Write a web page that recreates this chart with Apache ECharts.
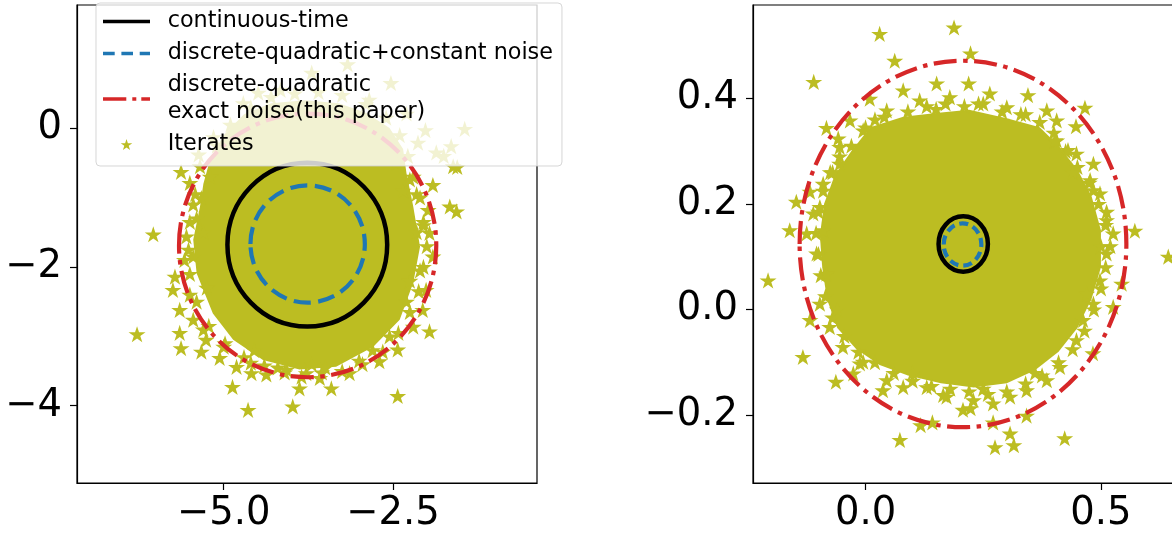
<!DOCTYPE html>
<html><head><meta charset="utf-8">
<script src="https://cdn.jsdelivr.net/npm/echarts@6/dist/echarts.min.js"></script>
<style>html,body{margin:0;padding:0;background:#fff}#c{width:1172px;height:537px}</style>
</head><body><div id="c"></div><script>
// ---------- data ----------
const seriesNames = ['continuous-time', 'discrete-quadratic+constant noise', 'discrete-quadratic\nexact noise(this paper)', 'Iterates'];

// axis ranges and ticks
const leftXRange = [-7.167, -0.372];
const leftYRange = [-5.114, 1.774];
const rightXRange = [-0.239, 0.738];
const rightYRange = [-0.3287, 0.5766];
const leftXTicks = [-5.0, -2.5];
const leftYTicks = [-4, -2, 0];
const rightXTicks = [0.0, 0.5];
const rightYTicks = [-0.2, 0.0, 0.2, 0.4];

// ellipses: [centre x, centre y, radius]
const leftContinuous = [-3.765, -1.68, 1.18];
const leftConstNoise = [-3.76, -1.67, 0.845];
const leftExactNoise = [-3.76, -1.69, 1.90];
const rightContinuous = [0.2075, 0.124, 0.0524];
const rightConstNoise = [0.206, 0.123, 0.040];
const rightExactNoise = [0.207, 0.124, 0.347];

// dense core of the iterates cloud (outline)
const leftCore = [[-5.2,-0.45],[-5.0,-0.1],[-4.7,0.2],[-4.3,0.36],[-3.8,0.4],[-3.3,0.36],[-2.9,0.22],[-2.55,0.0],[-2.35,-0.3],[-2.30,-0.65],[-2.20,-1.13],[-2.10,-1.71],[-2.20,-2.23],[-2.40,-2.76],[-2.79,-3.15],[-3.34,-3.44],[-3.88,-3.48],[-4.42,-3.34],[-4.86,-3.05],[-5.16,-2.67],[-5.40,-2.09],[-5.45,-1.61],[-5.35,-1.13],[-5.3,-0.8]];
const rightCore = [[-0.03,0.30],[0.01,0.345],[0.08,0.365],[0.15,0.372],[0.22,0.378],[0.30,0.362],[0.37,0.345],[0.41,0.31],[0.45,0.265],[0.48,0.215],[0.50,0.15],[0.50,0.08],[0.48,0.02],[0.45,-0.035],[0.41,-0.08],[0.36,-0.115],[0.30,-0.14],[0.23,-0.148],[0.16,-0.14],[0.09,-0.125],[0.03,-0.105],[-0.02,-0.075],[-0.06,-0.035],[-0.082,0.02],[-0.092,0.08],[-0.097,0.14],[-0.088,0.20],[-0.065,0.255]];

// individual iterates: edge of the core, outer fringe, outliers
const leftEdge = [[-5.35,-0.55],[-5.42,-0.95],[-5.50,-1.35],[-5.52,-1.75],[-5.50,-2.10],[-5.40,-2.50],[-5.22,-2.85],[-4.98,-3.10],[-4.70,-3.30],[-4.40,-3.42],[-4.10,-3.52],[-3.85,-3.58],[-3.55,-3.52],[-3.25,-3.50],[-2.95,-3.40],[-2.65,-3.22],[-2.42,-2.95],[-2.25,-2.65],[-2.12,-2.35],[-2.05,-2.00],[-2.00,-1.70],[-2.05,-1.35],[-2.10,-1.00],[-2.20,-0.70],[-2.28,-0.40],[-2.40,-0.10],[-2.60,0.15],[-2.90,0.35],[-3.25,0.48],[-3.60,0.52],[-3.95,0.50],[-4.30,0.45],[-4.60,0.30],[-4.90,0.05],[-5.10,-0.25],[-5.30,-1.50],[-5.25,-2.30],[-4.55,-3.20],[-3.70,-3.40],[-2.80,-3.20],[-2.25,-2.20],[-2.15,-1.50],[-2.35,-0.90]];
const leftFringe = [[-5.63,-0.63],[-5.50,-0.79],[-5.33,-1.01],[-5.55,-1.56],[-5.58,-1.90],[-5.72,-2.14],[-5.75,-2.33],[-5.65,-2.62],[-5.45,-2.76],[-5.65,-2.95],[-5.63,-3.17],[-5.33,-3.22],[-5.26,-3.05],[-5.06,-3.31],[-4.81,-3.44],[-4.59,-3.53],[-4.37,-3.55],[-4.07,-3.48],[-3.78,-3.53],[-3.58,-3.60],[-3.14,-3.53],[-2.70,-3.36],[-2.43,-3.19],[-2.20,-2.86],[-2.06,-2.62],[-2.01,-2.33],[-1.91,-1.85],[-1.96,-1.51],[-1.98,-1.18],[-1.66,-1.13],[-1.56,-1.20],[-1.91,-0.82],[-2.25,-0.74],[-1.61,-0.55],[-5.40,-1.30],[-5.45,-1.85],[-5.50,-2.40],[-5.30,-2.90],[-5.00,-3.15],[-4.60,-3.38],[-4.20,-3.45],[-3.50,-3.45],[-3.00,-3.35],[-2.55,-3.00],[-2.30,-2.50],[-2.10,-2.05],[-2.05,-1.40],[-2.15,-0.95],[-5.45,-1.10],[-5.20,-0.70],[-2.45,-0.50]];
const leftUpper = [[-4.49,0.51],[-4.16,0.55],[-4.71,0.36],[-3.70,0.80],[-3.17,0.92],[-2.85,0.41],[-2.53,0.65],[-2.30,0.21],[-2.13,-0.21],[-2.02,-0.03],[-1.86,-0.35],[-1.64,-0.26],[-1.75,-0.40],[-1.44,-0.01],[-1.55,-0.56],[-5.15,-0.13],[-5.37,-0.38]];
const leftOutliers = [[-6.04,-1.53],[-6.28,-2.97],[-4.64,-4.06],[-3.98,-4.01],[-4.87,-3.73],[-3.88,-3.75],[-3.41,-3.75],[-2.43,-3.86],[-1.96,-2.93]];
const rightEdge = [[-0.03,0.31],[0.00,0.345],[0.04,0.365],[0.09,0.375],[0.13,0.385],[0.17,0.39],[0.21,0.385],[0.25,0.39],[0.29,0.375],[0.33,0.37],[0.37,0.355],[0.40,0.335],[0.425,0.30],[0.45,0.27],[0.475,0.24],[0.495,0.20],[0.51,0.16],[0.52,0.12],[0.51,0.08],[0.50,0.04],[0.485,0.00],[0.465,-0.04],[0.44,-0.075],[0.41,-0.10],[0.375,-0.125],[0.34,-0.14],[0.30,-0.155],[0.26,-0.16],[0.22,-0.155],[0.18,-0.15],[0.14,-0.145],[0.10,-0.135],[0.06,-0.12],[0.02,-0.10],[-0.015,-0.08],[-0.045,-0.05],[-0.07,-0.015],[-0.085,0.025],[-0.095,0.065],[-0.10,0.105],[-0.105,0.145],[-0.10,0.185],[-0.09,0.225],[-0.075,0.26],[-0.055,0.29]];
const rightFringe = [[0.009,0.399],[0.045,0.377],[0.080,0.415],[0.115,0.396],[0.179,0.402],[0.264,0.409],[0.300,0.383],[0.385,0.377],[0.406,0.358],[0.406,0.320],[0.448,0.295],[0.484,0.276],[0.477,0.245],[0.498,0.220],[0.512,0.169],[0.526,0.144],[0.512,0.106],[0.498,0.055],[0.484,0.011],[0.462,-0.020],[0.448,-0.058],[0.413,-0.109],[0.385,-0.134],[0.342,-0.153],[0.307,-0.165],[0.271,-0.178],[0.229,-0.172],[0.172,-0.165],[0.130,-0.147],[0.080,-0.147],[0.045,-0.134],[-0.012,-0.102],[-0.048,-0.071],[-0.076,-0.033],[-0.097,0.011],[-0.083,0.068],[-0.104,0.106],[-0.125,0.144],[-0.097,0.194],[-0.090,0.238],[-0.055,0.276],[-0.033,0.358],[-0.055,0.308],[-0.005,0.339],[-0.118,-0.020],[-0.026,-0.121],[0.150,0.380],[0.240,0.390],[0.340,0.370],[0.440,0.260],[0.500,0.120],[0.470,0.030],[0.360,-0.120],[0.250,-0.150],[0.100,-0.120],[-0.060,0.000],[-0.090,0.150],[-0.070,0.260],[0.020,0.360]];
const rightOutliers = [[0.030,0.522],[0.188,0.534],[0.223,0.485],[0.062,0.471],[-0.110,0.431],[-0.083,0.344],[-0.058,0.324],[-0.161,0.150],[-0.147,0.204],[-0.111,0.182],[-0.118,0.223],[-0.207,0.055],[0.572,0.149],[0.643,0.100],[0.544,0.049],[0.526,0.005],[0.466,0.382],[0.447,0.347],[-0.133,-0.090],[-0.063,-0.137],[-0.005,-0.099],[0.037,-0.153],[0.073,-0.247],[0.117,-0.219],[0.142,-0.214],[0.165,-0.162],[0.207,-0.190],[0.223,-0.187],[0.275,-0.261],[0.315,-0.257],[0.307,-0.235],[0.271,-0.214],[0.342,-0.201],[0.423,-0.244],[0.483,-0.083],[0.345,0.406],[0.151,0.428],[0.219,0.428],[0.402,0.320],[0.430,0.302],[0.484,0.226],[0.512,0.185]];

// ---------- styles ----------
const OLIVE = '#bcbd22', BLACK = '#000000', BLUE = '#1f77b4', RED = '#d62728';
const FONT = 'DejaVu Sans';
const STAR = 'path://M0,-1L0.2245,-0.309L0.951,-0.309L0.363,0.118L0.588,0.809L0,0.382L-0.588,0.809L-0.363,0.118L-0.951,-0.309L-0.2245,-0.309Z';

function fmt(v, dec) {
  const s = Math.abs(v).toFixed(dec);
  return (v < -1e-9 ? '\u2212' : '') + s;
}
function axis(kind, gi, range, ticks, dec) {
  return {
    type: 'value', gridIndex: gi, min: range[0], max: range[1],
    axisLine: { show: true, onZero: false, lineStyle: { color: '#000', width: 1.2 } },
    splitLine: { show: false },
    axisTick: { show: true, inside: false, length: 7, lineStyle: { color: '#000', width: 1.2 }, customValues: ticks },
    axisLabel: { show: true, customValues: ticks, formatter: v => fmt(v, dec), fontSize: 38.5, fontFamily: FONT, color: '#000', margin: kind === 'x' ? 11 : 15 }
  };
}
function ellipseSeries(name, item, gi, color, width, dash) {
  return {
    type: 'custom', name, xAxisIndex: gi, yAxisIndex: gi, z: 3, silent: true, clip: true,
    itemStyle: { color },
    data: [item],
    renderItem: (params, api) => {
      const c = api.coord([api.value(0), api.value(1)]);
      const s = api.size([api.value(2), api.value(2)]);
      return { type: 'ellipse', shape: { cx: c[0], cy: c[1], rx: s[0], ry: s[1] },
        style: { fill: 'none', stroke: color, lineWidth: width, lineDash: dash } };
    }
  };
}
function coreSeries(points, gi) {
  return {
    type: 'custom', name: 'Iterates', xAxisIndex: gi, yAxisIndex: gi, z: 2, silent: true, clip: true,
    itemStyle: { color: OLIVE },
    data: points,
    renderItem: (params, api) => {
      if (params.dataIndex !== 0) return null;
      return { type: 'polygon', shape: { points: points.map(p => api.coord(p)) }, style: { fill: OLIVE } };
    }
  };
}
function starSeries(points, gi) {
  return {
    type: 'scatter', name: 'Iterates', xAxisIndex: gi, yAxisIndex: gi, z: 2, silent: true,
    symbol: STAR, symbolSize: 17, symbolKeepAspect: true,
    itemStyle: { color: OLIVE, opacity: 1 }, data: points
  };
}

const chart = echarts.init(document.getElementById('c'), null, { renderer: 'canvas' });
chart.setOption({
  animation: false,
  backgroundColor: '#fff',
  grid: [
    { left: 77, top: 5, width: 460, height: 478, show: true, borderColor: '#000', borderWidth: 1.2, outerBoundsMode: 'none', containLabel: false },
    { left: 753, top: 5, width: 460, height: 478, show: true, borderColor: '#000', borderWidth: 1.2, outerBoundsMode: 'none', containLabel: false }
  ],
  xAxis: [axis('x', 0, leftXRange, leftXTicks, 1), axis('x', 1, rightXRange, rightXTicks, 1)],
  yAxis: [axis('y', 0, leftYRange, leftYTicks, 0), axis('y', 1, rightYRange, rightYTicks, 1)],
  legend: {
    orient: 'vertical', left: 96, top: 3, padding: [5, 9, 8, 7], itemGap: 5,
    itemWidth: 47, itemHeight: 11, symbolKeepAspect: true,
    backgroundColor: 'rgba(255,255,255,0.8)', borderColor: 'rgba(204,204,204,0.8)', borderWidth: 1, borderRadius: 4,
    textStyle: { fontSize: 22.3, fontFamily: FONT, color: '#000', lineHeight: 27, padding: [0, 0, 0, 12.7] },
    data: [
      { name: seriesNames[0], icon: 'path://M0,0H47V3.6H0Z' },
      { name: seriesNames[1], icon: 'path://M0,0H11.7V3.6H0Z M18.4,0H30V3.6H18.4Z M36.7,0H47V3.6H36.7Z' },
      { name: seriesNames[2], icon: 'path://M0,0H23.3V3.6H0Z M29.3,0H33.3V3.6H29.3Z M38.3,0H47V3.6H38.3Z' },
      { name: seriesNames[3], icon: STAR }
    ]
  },
  series: [
    starSeries(leftEdge.concat(leftFringe, leftUpper, leftOutliers), 0),
    starSeries(rightEdge.concat(rightFringe, rightOutliers), 1),
    coreSeries(leftCore, 0),
    coreSeries(rightCore, 1),
    ellipseSeries(seriesNames[0], leftContinuous, 0, BLACK, 4.5, null),
    ellipseSeries(seriesNames[1], leftConstNoise, 0, BLUE, 4.2, [17, 7.5]),
    ellipseSeries(seriesNames[2], leftExactNoise, 0, RED, 4.2, [23, 6.5, 4.5, 6.5]),
    ellipseSeries(seriesNames[0], rightContinuous, 1, BLACK, 4.5, null),
    ellipseSeries(seriesNames[1], rightConstNoise, 1, BLUE, 4.2, [9, 5]),
    ellipseSeries(seriesNames[2], rightExactNoise, 1, RED, 4.2, [23, 6.5, 4.5, 6.5])
  ]
});
</script></body></html>
